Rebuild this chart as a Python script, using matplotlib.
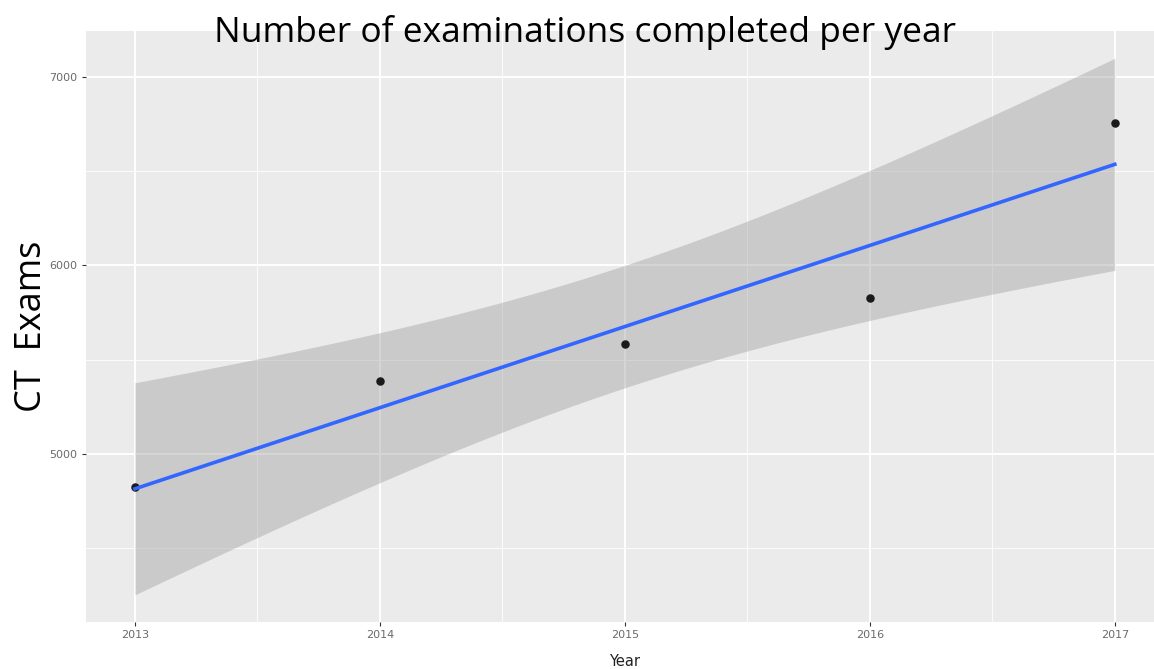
import numpy as np
import matplotlib
matplotlib.use('Agg')
from matplotlib import pyplot as plt
from matplotlib.ticker import MultipleLocator

# values
years = [2013, 2014, 2015, 2016, 2017]
exams = [4825, 5386, 5582, 5825, 6757]
x_ticks = [2013, 2014, 2015, 2016, 2017]
y_ticks = [5000, 6000, 7000]

x = np.array(years, dtype=float)
y = np.array(exams, dtype=float)

# lm fit + 95% confidence band (like geom_smooth(method='lm'))
slope, intercept = np.polyfit(x, y, 1)
xs = np.linspace(x.min(), x.max(), 100)
fit = intercept + slope * xs
resid = y - (intercept + slope * x)
n = len(x)
s = np.sqrt(np.sum(resid ** 2) / (n - 2))
t_crit = 3.182  # t(0.975, df=3)
se = s * np.sqrt(1 / n + (xs - x.mean()) ** 2 / np.sum((x - x.mean()) ** 2))
lower = fit - t_crit * se
upper = fit + t_crit * se

fig = plt.figure(figsize=(11.54, 6.69), dpi=100)
ax = fig.add_axes([0.0745, 0.0703, 0.934, 0.8834])
ax.set_facecolor('#EBEBEB')

ax.xaxis.set_major_locator(MultipleLocator(1))
ax.xaxis.set_minor_locator(MultipleLocator(0.5))
ax.yaxis.set_major_locator(MultipleLocator(1000))
ax.yaxis.set_minor_locator(MultipleLocator(500))
ax.grid(which='major', color='white', linewidth=1.4)
ax.grid(which='minor', color='white', linewidth=0.6)
ax.set_axisbelow(True)
for sp in ax.spines.values():
    sp.set_visible(False)

ax.fill_between(xs, lower, upper, color='#999999', alpha=0.4, linewidth=0, zorder=2)
ax.scatter(x, y, s=26, color='#1a1a1a', zorder=3)
ax.plot(xs, fit, color='#3366FF', linewidth=2.6, zorder=4)

ax.set_xlim(2012.8, 2017.2)
ax.set_ylim(4108, 7243)
ax.set_xticks(x_ticks)
ax.set_xticklabels([str(v) for v in x_ticks])
ax.set_yticks(y_ticks)
ax.set_yticklabels([str(v) for v in y_ticks])
ax.tick_params(which='major', length=3, color='#333333', labelsize=8,
               labelcolor='#6a6a6a', pad=3)
ax.tick_params(which='minor', length=0)

ax.set_xlabel('Year', fontsize=10.5, color='#222222', labelpad=10)
ax.set_ylabel('CT  Exams', fontsize=26, family='Open Sans', labelpad=0)

fig.text(0.507, 0.952, 'Number of examinations completed per year',
         fontsize=25.5, family='Open Sans', ha='center', va='center')

fig.savefig('out.png', dpi=100)
